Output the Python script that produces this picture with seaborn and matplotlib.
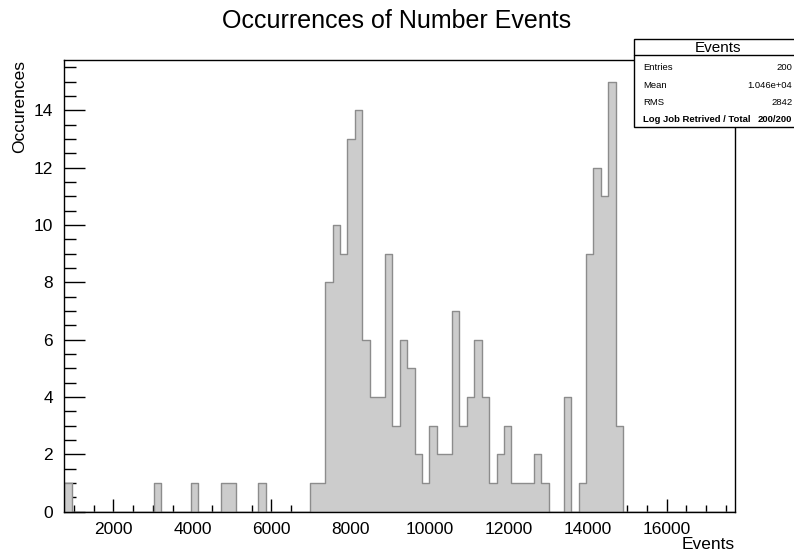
import numpy as np
import pandas as pd
import matplotlib
matplotlib.use("Agg")
import matplotlib.pyplot as plt
from matplotlib.patches import Rectangle
from matplotlib.lines import Line2D
from matplotlib.ticker import MultipleLocator
import seaborn as sns

# ---------------- data ----------------
x_min, x_max, n_bins = 757.0, 17731.0, 90
# counts per bin (90 bins, left to right)
counts = [1, 0, 0, 0, 0, 0, 0, 0, 0, 0,
          0, 0, 1, 0, 0, 0, 0, 1, 0, 0,
          0, 1, 1, 0, 0, 0, 1, 0, 0, 0,
          0, 0, 0, 1, 1, 8, 10, 9, 13, 14,
          6, 4, 4, 9, 3, 6, 5, 2, 1, 3,
          2, 2, 7, 3, 4, 6, 4, 1, 2, 3,
          1, 1, 1, 2, 1, 0, 0, 4, 0, 1,
          9, 12, 11, 15, 3, 0, 0, 0, 0, 0,
          0, 0, 0, 0, 0, 0, 0, 0, 0, 0]
title = "Occurrences of Number Events"
x_label = "Events"
y_label = "Occurences"
stats_title = "Events"
stats_names = ["Entries", "Mean", "RMS", "Log Job Retrived / Total"]
stats_values = ["200", "1.046e+04", "2842", "200/200"]

bin_w = (x_max - x_min) / n_bins
centers = x_min + bin_w * (np.arange(n_bins) + 0.5)
df = pd.DataFrame({"Events": centers, "count": counts})

# ---------------- style ----------------
sns.set_style("white")
plt.rcParams["font.family"] = ["Liberation Sans", "DejaVu Sans"]
plt.rcParams["text.color"] = "black"
plt.rcParams["axes.labelcolor"] = "black"
plt.rcParams["xtick.color"] = "black"
plt.rcParams["ytick.color"] = "black"

W, H, DPI = 794, 555, 100
fig = plt.figure(figsize=(W / DPI, H / DPI), dpi=DPI)
ax_l, ax_r, ax_t, ax_b = 64.3, 735.0, 60.0, 511.7
ax = fig.add_axes([ax_l / W, 1 - ax_b / H, (ax_r - ax_l) / W, (ax_b - ax_t) / H])

sns.histplot(data=df, x="Events", weights="count", binwidth=bin_w,
             binrange=(x_min, x_max), element="step",
             fill=True, color="#cccccc", edgecolor="#8c8c8c", linewidth=1.0,
             alpha=1.0, ax=ax)

ax.set_xlim(x_min, x_max)
ax.set_ylim(0, max(counts) * 1.05)

for s in ax.spines.values():
    s.set_color("black")
    s.set_linewidth(1.0)
    s.set_visible(True)

ax.xaxis.set_major_locator(MultipleLocator(2000))
ax.xaxis.set_minor_locator(MultipleLocator(500))
ax.yaxis.set_major_locator(MultipleLocator(2))
ax.yaxis.set_minor_locator(MultipleLocator(0.5))
ax.tick_params(axis="x", which="major", direction="in", length=9.4, width=1.0,
               labelsize=12.5, pad=7.5, colors="black", bottom=True, top=False)
ax.tick_params(axis="x", which="minor", direction="in", length=5, width=1.0,
               bottom=True, top=False, colors="black")
ax.tick_params(axis="y", which="major", direction="in", length=15, width=1.0,
               labelsize=12.5, pad=8, colors="black", left=True, right=False)
ax.tick_params(axis="y", which="minor", direction="in", length=8.4, width=1.0,
               left=True, right=False, colors="black")

ax.set_xlabel(x_label, fontsize=12.5, loc="right", color="black")
ax.set_ylabel(y_label, fontsize=12.5, loc="top", color="black")
ax.xaxis.set_label_coords(1.0, -(537 - ax_b) / (ax_b - ax_t))
ax.yaxis.set_label_coords(-(ax_l - 27) / (ax_r - ax_l), 1.0)
ax.grid(False)

fig.text(0.5, 1 - 21 / H, title, ha="center", va="center", fontsize=18,
         color="black")

# ---------------- stats box ----------------
bx0, by0, bx1, by1, bhl = 634, 39.3, 800, 127, 55
rect = Rectangle((bx0 / W, 1 - by1 / H), (bx1 - bx0) / W, (by1 - by0) / H,
                 transform=fig.transFigure, facecolor="white", edgecolor="black",
                 linewidth=1.0, clip_on=False, zorder=10)
fig.patches.append(rect)
fig.lines.append(Line2D([bx0 / W, 1.0], [1 - bhl / H, 1 - bhl / H],
                        transform=fig.transFigure, color="black", linewidth=1.0,
                        zorder=11))
fig.text(718 / W, 1 - 47.5 / H, stats_title, ha="center", va="center",
         fontsize=11, zorder=12, color="black")
row_y = [67.3, 85.0, 102.7, 119.3]
for i, (n, v) in enumerate(zip(stats_names, stats_values)):
    bold = "bold" if i == len(stats_names) - 1 else "normal"
    fig.text(643 / W, 1 - row_y[i] / H, n, ha="left", va="center", fontsize=6.8,
             fontweight=bold, zorder=12, color="black")
    fig.text(792.5 / W, 1 - row_y[i] / H, v, ha="right", va="center", fontsize=6.8,
             fontweight=bold, zorder=12, color="black")

fig.savefig("out.png", dpi=DPI)
